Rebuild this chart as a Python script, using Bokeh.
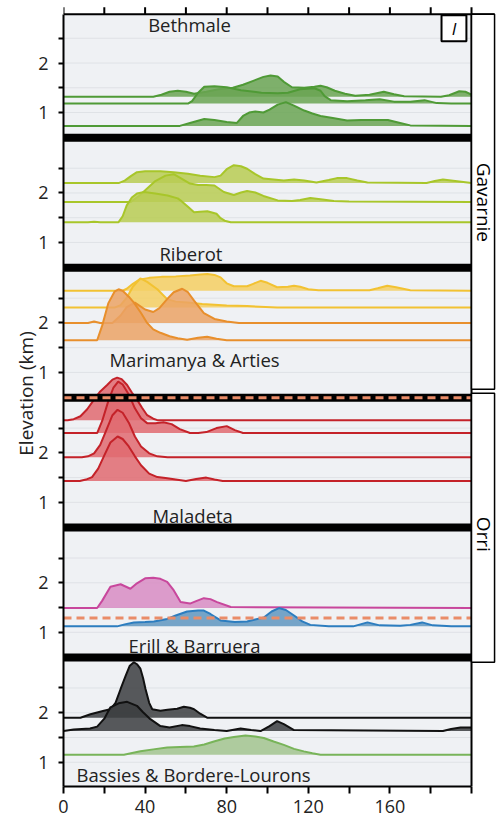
import math
from bokeh.plotting import figure
from bokeh.models import Range1d, FixedTicker
from bokeh.core.properties import value
from bokeh.embed import file_html
from bokeh.resources import INLINE

FONT = "Open Sans"
PITCH = 2.625          # vertical spacing between stacked panels (km)
X_MAX = 200

panel_names = ["Bethmale", "Riberot", "Marimanya & Arties", "Maladeta",
               "Erill & Barruera", "Bassies & Bordere-Lourons"]
group_names = ["Gavarnie", "Orri"]
x_ticks = [0, 40, 80, 120, 160]
x_minor = [20, 60, 100, 140, 180, 200]
top_ticks = [0, 20, 40, 60, 80, 100, 120, 140, 160, 180, 200]

# ---- Bethmale ----
beth_a_base = 1.32
beth_a_x = [0, 44, 48, 52, 56, 60, 64, 70, 76, 83, 88, 93, 98, 101.5, 105, 108, 112, 118, 123, 126, 129, 133, 138, 143, 150, 157, 162, 167, 185, 189, 194, 197, 200]
beth_a_h = [0, 0, 0.04, 0.10, 0.12, 0.10, 0.06, 0.10, 0.15, 0.18, 0.24, 0.32, 0.40, 0.43, 0.41, 0.30, 0.19, 0.18, 0.20, 0.22, 0.19, 0.12, 0.06, 0.02, 0.04, 0.10, 0.05, 0.01, 0.0, 0.03, 0.11, 0.10, 0.04]
beth_b_base = 1.18
beth_b_x = [0, 61, 63, 66, 69, 74, 80, 87, 97, 105, 110, 116, 123, 126, 128, 131, 139, 148, 155, 162, 170, 177, 183, 190, 200]
beth_b_h = [0, 0, 0.05, 0.22, 0.34, 0.35, 0.33, 0.27, 0.22, 0.21, 0.22, 0.29, 0.31, 0.26, 0.15, 0.07, 0.05, 0.07, 0.09, 0.04, 0.04, 0.07, 0.01, 0.0, 0.0]
beth_c_base = 0.73
beth_c_x = [0, 57, 62, 69, 74, 80, 85, 88, 91, 94, 98, 101, 105, 109, 113, 118, 122, 126, 132, 139, 146, 152, 159, 165, 170, 200]
beth_c_h = [0, 0, 0.06, 0.14, 0.12, 0.08, 0.06, 0.20, 0.27, 0.29, 0.27, 0.33, 0.43, 0.48, 0.41, 0.31, 0.25, 0.20, 0.16, 0.11, 0.12, 0.12, 0.12, 0.06, 0.01, 0]

# ---- Riberot ----
rib_a_base = 2.20
rib_a_x = [0, 27, 30, 33, 36, 40, 47.5, 54, 61, 67, 74, 77, 80, 83.5, 87, 90, 94, 98, 103, 108, 113, 118, 124, 130, 134, 139, 144, 149, 178, 182, 186, 192, 198, 200]
rib_a_h = [0, 0, 0.05, 0.14, 0.22, 0.24, 0.24, 0.22, 0.19, 0.15, 0.12, 0.15, 0.28, 0.36, 0.34, 0.29, 0.18, 0.09, 0.07, 0.05, 0.07, 0.05, 0.01, 0.06, 0.10, 0.10, 0.05, 0.01, 0, 0.04, 0.07, 0.04, 0.01, 0]
rib_b_base = 1.82
rib_b_x = [0, 33, 37, 41, 45, 50, 54, 57, 62, 66, 70, 74, 78.6, 83.5, 87, 90, 94, 98, 105, 112, 116, 121, 127, 132.5, 140, 200]
rib_b_h = [0, 0, 0.12, 0.27, 0.42, 0.53, 0.56, 0.49, 0.37, 0.34, 0.34, 0.33, 0.20, 0.14, 0.19, 0.22, 0.19, 0.12, 0.03, 0.02, 0.04, 0.08, 0.05, 0.02, 0.01, 0]
rib_c_base = 1.41
rib_c_x = [0, 12, 15, 18, 27, 29, 31, 33.5, 36, 39.5, 45, 51, 56, 58, 61, 64, 67, 70.5, 75, 77, 79, 82, 200]
rib_c_h = [0, 0, 0.01, 0, 0, 0.12, 0.34, 0.50, 0.58, 0.61, 0.58, 0.54, 0.48, 0.42, 0.31, 0.20, 0.21, 0.22, 0.17, 0.08, 0.03, 0, 0]

# ---- Marimanya & Arties ----
mar_a_base = 2.65
mar_a_x = [0, 29, 31, 34, 37, 42, 48, 55, 62, 67, 70.5, 74, 77, 80, 83.5, 90, 93, 96.6, 100, 104.7, 110, 113, 116, 120, 125, 150, 154, 158.7, 163, 170, 200]
mar_a_h = [0, 0, 0.04, 0.14, 0.22, 0.26, 0.28, 0.29, 0.31, 0.33, 0.34, 0.32, 0.27, 0.15, 0.09, 0.09, 0.14, 0.20, 0.16, 0.07, 0.08, 0.10, 0.08, 0.03, 0.01, 0.01, 0.05, 0.10, 0.07, 0.01, 0]
mar_b_base = 2.31
mar_b_x = [0, 25, 28, 31, 34, 37.7, 41, 46, 50.8, 55, 60.6, 68, 80, 90, 104.7, 110, 200]
mar_b_h = [0, 0, 0.05, 0.20, 0.42, 0.59, 0.52, 0.37, 0.17, 0.12, 0.10, 0.07, 0.04, 0.03, 0.0, 0, 0]
mar_c_base = 2.0
mar_c_x = [0, 12, 15, 18, 24, 28, 31, 35, 40, 44, 47, 50.8, 54, 58.2, 61, 64, 68.8, 74, 80, 86, 200]
mar_c_h = [0, 0, 0.03, 0, 0, 0.15, 0.32, 0.41, 0.27, 0.22, 0.30, 0.48, 0.62, 0.69, 0.62, 0.45, 0.20, 0.08, 0.03, 0, 0]
mar_d_base = 1.65
mar_d_x = [0, 16.5, 19, 22, 25, 27, 29, 32, 34.5, 38, 41, 44, 47.5, 52, 56, 60.6, 66, 70.4, 75, 80, 200]
mar_d_h = [0, 0, 0.30, 0.75, 0.98, 1.03, 1.0, 0.88, 0.76, 0.55, 0.35, 0.22, 0.15, 0.08, 0.04, 0.01, 0.05, 0.07, 0.03, 0, 0]

# ---- Maladeta ----
mal_a_base = 2.66
mal_a_x = [0, 2, 5, 8.3, 11.6, 14.9, 18, 21.4, 24, 26.3, 28.5, 31.2, 33.5, 36.1, 38.5, 41, 44, 46, 200]
mal_a_h = [0, 0, 0.02, 0.08, 0.22, 0.41, 0.58, 0.71, 0.82, 0.86, 0.83, 0.71, 0.56, 0.41, 0.25, 0.10, 0.03, 0, 0]
mal_b_base = 2.40
mal_b_x = [0, 16.5, 19, 22, 24.5, 26.8, 29, 32, 35, 38, 41, 45, 49, 53, 57, 62, 66, 70, 75, 80, 84, 88, 200]
mal_b_h = [0, 0, 0.25, 0.65, 0.92, 1.04, 0.98, 0.78, 0.50, 0.30, 0.20, 0.20, 0.22, 0.18, 0.08, 0.0, 0.0, 0.02, 0.10, 0.14, 0.06, 0, 0]
mal_c_base = 1.91
mal_c_x = [0, 9, 12, 15, 18, 21, 24, 26.5, 29, 32, 35, 38, 42, 46, 51, 200]
mal_c_h = [0, 0, 0.02, 0.08, 0.25, 0.55, 0.85, 0.96, 0.90, 0.70, 0.42, 0.22, 0.08, 0.02, 0, 0]
mal_d_base = 1.43
mal_d_x = [0, 8, 11, 14, 17, 20, 23, 26.5, 29, 32, 35, 38, 42, 46, 50, 55, 60, 65, 70, 74, 78, 200]
mal_d_h = [0, 0, 0.03, 0.08, 0.25, 0.52, 0.78, 0.90, 0.85, 0.70, 0.50, 0.32, 0.15, 0.08, 0.06, 0.03, 0.0, 0.04, 0.07, 0.03, 0, 0]

# ---- Erill & Barruera ----
eri_a_base = 1.49
eri_a_x = [0, 16.5, 19, 23, 28, 32.8, 36, 40, 44, 47.5, 50.8, 54, 57.4, 62, 65, 68.8, 72, 75.3, 82, 200]
eri_a_h = [0, 0, 0.15, 0.43, 0.48, 0.39, 0.50, 0.60, 0.61, 0.59, 0.53, 0.36, 0.12, 0.09, 0.14, 0.20, 0.18, 0.12, 0.02, 0]
eri_b_base = 1.12
eri_b_x = [0, 26.3, 30, 34.5, 40, 44.3, 47, 50.8, 55, 60.6, 66, 68.8, 72, 77, 84, 90, 94, 98.2, 102, 105.6, 109, 113, 117, 121, 130, 142, 149, 155, 165, 170, 175.8, 181, 190, 200]
eri_b_h = [0, 0, 0.04, 0.08, 0.09, 0.10, 0.12, 0.15, 0.22, 0.30, 0.32, 0.32, 0.25, 0.12, 0.09, 0.10, 0.14, 0.18, 0.30, 0.37, 0.33, 0.22, 0.10, 0.03, 0, 0, 0.08, 0.02, 0.01, 0.03, 0.08, 0.02, 0, 0]
eri_dash = 1.29

# ---- Bassies & Bordere-Lourons ----
bas_a_base = 1.90
bas_a_x = [0, 8.3, 13.2, 19.8, 23, 25.5, 28, 30.5, 32.5, 34.5, 36, 37.7, 39, 40.2, 42, 43.5, 47.5, 51, 55.7, 59, 62, 64, 67, 70.4, 200]
bas_a_h = [0, 0, 0.07, 0.14, 0.17, 0.30, 0.58, 0.85, 1.05, 1.12, 1.08, 0.99, 0.80, 0.58, 0.30, 0.17, 0.14, 0.16, 0.18, 0.22, 0.20, 0.17, 0.08, 0, 0]
bas_b_base = 1.63
bas_b_x = [0, 5, 13, 16.5, 20, 23, 27, 31.2, 36, 39, 42.6, 47.5, 52, 58, 62, 67, 74, 80, 86.8, 92, 96.6, 101, 104.7, 108, 113, 186, 190, 194.6, 200]
bas_b_h = [0, 0.03, 0.05, 0.09, 0.25, 0.48, 0.56, 0.59, 0.51, 0.38, 0.24, 0.10, 0.07, 0.12, 0.10, 0.05, 0.02, 0.0, 0.05, 0.02, 0.0, 0.10, 0.20, 0.14, 0.02, 0, 0.04, 0.07, 0.07]
bas_c_base = 1.15
bas_c_x = [0, 29.6, 37.7, 44, 50.8, 57, 63.9, 69, 73.7, 79, 83.5, 89.2, 94, 98.2, 103, 108, 113, 117.8, 122, 126, 200]
bas_c_h = [0, 0, 0.07, 0.11, 0.15, 0.16, 0.17, 0.21, 0.27, 0.33, 0.36, 0.39, 0.37, 0.34, 0.27, 0.20, 0.12, 0.07, 0.03, 0, 0]

# colours (line, fill)
GREEN = ("#4f9a36", "#6aa552")
LIME = ("#a8c62a", "#b9cd52")
YELLOW = ("#f2c232", "#f4cf62")
ORANGE = ("#e88f2c", "#eba365")
RED = ("#c42229", "#e06a70")
MAGENTA = ("#c8479c", "#d88cc3")
BLUE = ("#2c7dbf", "#5f97c0")
BLACK = ("#111111", "#3b3d40")
SAGE = ("#78b459", "#a2c48e")
SALMON = "#ea8c68"

# panel index counted from the top
ridges = [
    (0, beth_a_base, beth_a_x, beth_a_h, GREEN),
    (0, beth_b_base, beth_b_x, beth_b_h, GREEN),
    (0, beth_c_base, beth_c_x, beth_c_h, GREEN),
    (1, rib_a_base, rib_a_x, rib_a_h, LIME),
    (1, rib_b_base, rib_b_x, rib_b_h, LIME),
    (1, rib_c_base, rib_c_x, rib_c_h, LIME),
    (2, mar_a_base, mar_a_x, mar_a_h, YELLOW),
    (2, mar_b_base, mar_b_x, mar_b_h, YELLOW),
    (2, mar_c_base, mar_c_x, mar_c_h, ORANGE),
    (2, mar_d_base, mar_d_x, mar_d_h, ORANGE),
    (3, mal_a_base, mal_a_x, mal_a_h, RED),
    (3, mal_b_base, mal_b_x, mal_b_h, RED),
    (3, mal_c_base, mal_c_x, mal_c_h, RED),
    (3, mal_d_base, mal_d_x, mal_d_h, RED),
    (4, eri_a_base, eri_a_x, eri_a_h, MAGENTA),
    (4, eri_b_base, eri_b_x, eri_b_h, BLUE),
    (5, bas_a_base, bas_a_x, bas_a_h, BLACK),
    (5, bas_b_base, bas_b_x, bas_b_h, BLACK),
    (5, bas_c_base, bas_c_x, bas_c_h, SAGE),
]

N = len(panel_names)


def G(panel, local):
    """global y of a local elevation in a panel (panel 0 = top)"""
    return (N - 1 - panel) * PITCH + local


Y0 = 0.51          # bottom of the stacked panels
Y1 = 16.11         # top of the stacked panels
Y_FRAME_TOP = 16.388
X_END = 212.25
X_BRACKET = 211.3

p = figure(width=496, height=821, x_range=Range1d(0, X_END), y_range=Range1d(Y0, Y_FRAME_TOP),
           output_backend="svg", toolbar_location=None,
           min_border_left=63, min_border_right=0, min_border_top=0, min_border_bottom=35,
           background_fill_color="white", border_fill_color="white", outline_line_color=None)
p.xgrid.visible = False
p.ygrid.visible = False

# background of the stacked panels
p.quad(left=[0], right=[X_MAX], bottom=[Y0], top=[Y1], fill_color="#eff1f4", line_color=None)

# faint horizontal grid lines
gy = [G(k, v) for k in range(N) for v in (1.0, 1.5, 2.0, 2.5)]
p.segment(x0=[0] * len(gy), x1=[X_MAX] * len(gy), y0=gy, y1=gy, line_color="#dfe2e6", line_width=1)

# ridges
for panel, base, xs, hs, (lc, fc) in ridges:
    b = G(panel, base)
    top = [b + h for h in hs]
    p.varea(x=xs, y1=[b] * len(xs), y2=top, fill_color=fc, fill_alpha=0.85)
    p.line(xs, top, line_color=lc, line_width=2)

# separators between panels (drawn over the ridges)
sep = [G(k, 0.49) for k in range(N - 1)]
p.segment(x0=[0] * len(sep), x1=[X_MAX] * len(sep), y0=sep, y1=sep, line_color="black", line_width=8)

# dashed reference lines
dash_y = [sep[2], G(4, eri_dash)]
p.segment(x0=[0, 0], x1=[X_MAX, X_MAX], y0=dash_y, y1=dash_y, line_color=SALMON,
          line_width=3, line_dash="8 5")

# right border and top border with outward ticks
p.segment(x0=[X_MAX], x1=[X_MAX], y0=[Y0], y1=[Y1], line_color="black", line_width=2)
p.segment(x0=[0], x1=[X_BRACKET], y0=[Y1], y1=[Y1], line_color="black", line_width=2)
p.segment(x0=top_ticks, x1=top_ticks, y0=[Y1] * len(top_ticks), y1=[Y1 + 0.14] * len(top_ticks),
          line_color="black", line_width=2)

# panel names
lab_x = [41.5, 47, 22.5, 43.6, 31.9, 6.4]
lab_local = [2.78, 0.78, 1.26, 0.74, 0.736, 0.755]
p.text(x=lab_x, y=[G(k, v) for k, v in enumerate(lab_local)], text=panel_names,
       text_font=value(FONT), text_font_size="18.5px", text_color="#222222",
       text_baseline="alphabetic", text_align="left")

# "I" tag
p.quad(left=[185.3], right=[197.5], bottom=[15.565], top=[16.09], fill_color="white",
       line_color="black", line_width=2)
p.text(x=[191.4], y=[15.83], text=["I"], text_font=value(FONT), text_font_size="17px",
       text_font_style="italic", text_align="center", text_baseline="middle")

# group brackets on the right
p.quad(left=[X_MAX, X_MAX], right=[X_BRACKET, X_BRACKET], top=[Y1, 8.453], bottom=[8.534, 3.02],
       fill_color="white", line_color="black", line_width=1.5)
p.text(x=[205.9, 205.9], y=[12.31, 5.605], text=group_names, angle=-math.pi / 2,
       text_font=value(FONT), text_font_size="19px", text_align="center", text_baseline="middle")

# left axis
major = [G(k, v) for k in range(N) for v in (1.0, 2.0)]
minor = [G(k, v) for k in range(N) for v in (1.5, 2.5)]
ax = p.yaxis[0]
ax.ticker = FixedTicker(ticks=major, minor_ticks=minor)
ax.major_label_overrides = {G(k, v): str(int(v)) for k in range(N) for v in (1.0, 2.0)}
ax.bounds = (Y0, Y1)
ax.axis_line_width = 2
ax.major_tick_line_width = 2
ax.minor_tick_line_width = 2
ax.major_tick_out = 5
ax.major_tick_in = 0
ax.minor_tick_out = 5
ax.minor_tick_in = 0
ax.major_label_standoff = 10
ax.major_label_text_font = FONT
ax.major_label_text_font_size = "18px"
ax.major_label_text_color = "#222222"
ax.axis_label = "Elevation (km)"
ax.axis_label_text_font = FONT
ax.axis_label_text_font_size = "19px"
ax.axis_label_text_font_style = "normal"
ax.axis_label_text_color = "#222222"
ax.axis_label_standoff = -4

# bottom axis
bx = p.xaxis[0]
bx.ticker = FixedTicker(ticks=x_ticks, minor_ticks=x_minor)
bx.bounds = (0, X_MAX)
bx.axis_line_width = 2
bx.major_tick_line_width = 2
bx.minor_tick_line_width = 2
bx.major_tick_out = 7
bx.major_tick_in = 0
bx.minor_tick_out = 7
bx.minor_tick_in = 0
bx.major_label_standoff = 6
bx.major_label_text_font = FONT
bx.major_label_text_font_size = "18px"
bx.major_label_text_color = "#222222"

open("out.html", "w").write(file_html(p, INLINE))
